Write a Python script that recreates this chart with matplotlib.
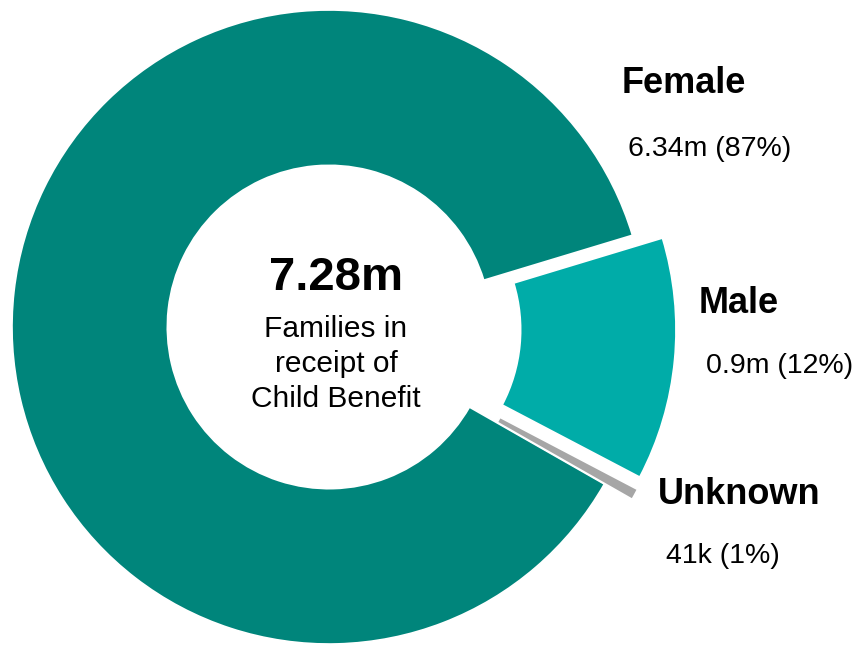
import matplotlib
matplotlib.use("Agg")
import matplotlib.pyplot as plt

# Data
categories = ["Female", "Male", "Unknown"]
values = [6.34, 0.9, 0.041]
value_labels = ["6.34m (87%)", "0.9m (12%)", "41k (1%)"]
total_label = "7.28m"
center_caption = ["Families in", "receipt of", "Child Benefit"]

colors = ["#00857B", "#00ACA8", "#A6A6A6"]
explode = [0, 0.095, 0.1]

plt.rcParams['font.family'] = ['Liberation Sans', 'DejaVu Sans']

W, H = 859, 645
fig = plt.figure(figsize=(W / 100, H / 100), dpi=100)
ax = fig.add_axes([0, 0, 1, 1])

ax.pie(values, colors=colors, startangle=-29.7, counterclock=False,
       explode=explode, radius=1.0,
       wedgeprops=dict(width=0.49, edgecolor='white', linewidth=1.2))

cx, cy = 329, 327
rx, ry = 317, 317
ax.set_aspect('auto')
ax.set_xlim(-cx / rx, (W - cx) / rx)
ax.set_ylim(-(H - cy) / ry, cy / ry)
ax.axis('off')


def px(x, y):
    return x / W, 1 - y / H


# center text
fig.text(*px(336, 290), total_label, ha='center', va='baseline',
         fontsize=34, fontweight='bold', color='black')
for i, line in enumerate(center_caption):
    fig.text(*px(336, 337 + 35 * i), line, ha='center', va='baseline',
             fontsize=21.5, color='black')

# category labels
name_pos = [(622, 93), (699, 313), (658, 504)]
val_pos = [(628, 156), (706, 373), (666, 563)]
for name, vl, npos, vpos in zip(categories, value_labels, name_pos, val_pos):
    fig.text(*px(*npos), name, ha='left', va='baseline',
             fontsize=26, fontweight='bold', color='black')
    fig.text(*px(*vpos), vl, ha='left', va='baseline',
             fontsize=20.5, color='black')

fig.savefig("out.png", dpi=100, facecolor='white')
